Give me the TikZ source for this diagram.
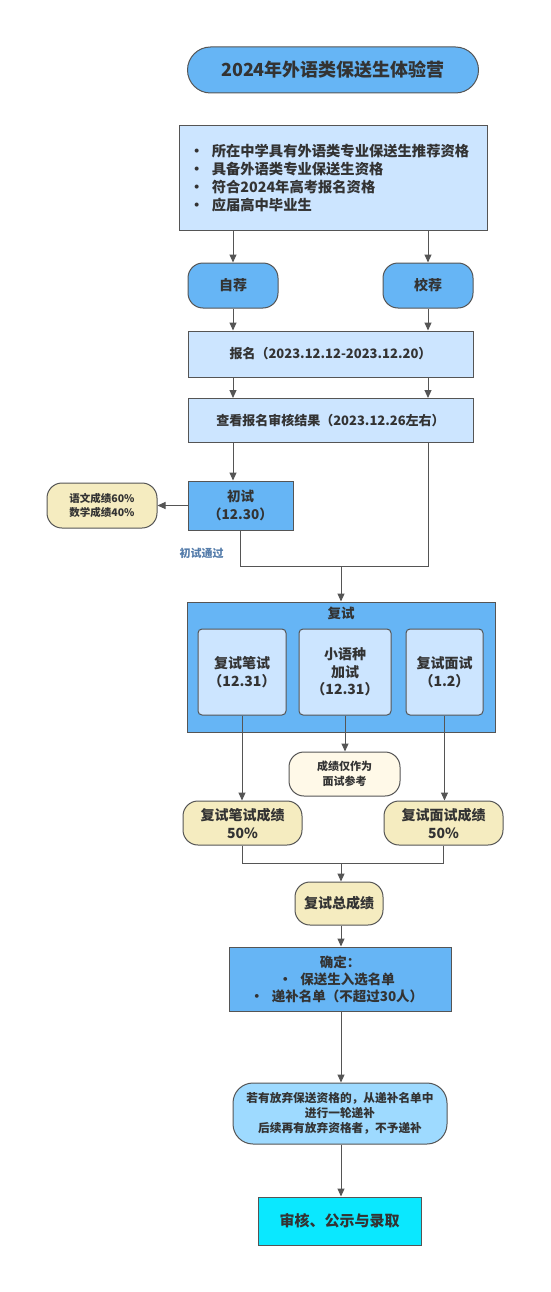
\documentclass[tikz,border=0pt]{standalone}
\usepackage{fontspec}
\setmainfont{Noto Sans CJK SC}
\usetikzlibrary{arrows.meta, positioning, calc}
\definecolor{stepblue}{RGB}{102,181,245}
\definecolor{paleblue}{RGB}{204,229,255}
\definecolor{scorecream}{RGB}{245,236,192}
\definecolor{notecream}{RGB}{255,249,232}
\definecolor{skyblue}{RGB}{158,218,255}
\definecolor{finalcyan}{RGB}{10,232,255}
\definecolor{edgegray}{RGB}{85,85,85}
\definecolor{textgray}{RGB}{51,51,51}
\definecolor{passblue}{RGB}{84,124,170}
\newcommand{\fsz}[2]{\fontsize{#1}{#2}\selectfont\bfseries}
\newcommand{\bul}[1]{\makebox[0pt]{·}\hspace{#1}}

\begin{document}
\begin{tikzpicture}[x=1pt, y=-1pt,
    box/.style={rectangle, draw=edgegray, line width=1pt, align=center,
                inner sep=2pt, text=textgray},
    pill/.style={box, rounded corners=15pt},
    inner/.style={box, fill=paleblue, rounded corners=4pt, minimum height=86pt,
                  font=\fsz{14pt}{17.5pt}},
    arr/.style={-{Triangle[length=8pt, width=7pt]}, draw=edgegray, line width=1pt},
    wire/.style={draw=edgegray, line width=1pt}]

    \fill[white] (0,0) rectangle (550,1292);
    \useasboundingbox (0,0) rectangle (550,1292);

    % Title and entry requirements
    \node[pill, rounded corners=23pt, fill=stepblue, minimum width=291pt, minimum height=46pt,
          font=\fsz{18pt}{22pt}] (title) at (333,70) {2024年外语类保送生体验营};
    \node[box, fill=paleblue, minimum width=308pt, minimum height=104pt, align=left,
          font=\fsz{14.3pt}{18pt}] (elig) at (333,178) {
        \bul{15pt}所在中学具有外语类专业保送生推荐资格\\
        \bul{15pt}具备外语类专业保送生资格\\
        \bul{15pt}符合2024年高考报名资格\\
        \bul{15pt}应届高中毕业生};

    % Recommendation routes
    \node[pill, fill=stepblue, minimum width=90pt, minimum height=45pt,
          font=\fsz{14pt}{17pt}] (self) at (233,285.5) {自荐};
    \node[pill, fill=stepblue, minimum width=90pt, minimum height=45pt,
          font=\fsz{14pt}{17pt}] (school) at (428,285.5) {校荐};

    % Registration
    \node[box, fill=paleblue, minimum width=285pt, minimum height=46pt,
          font=\fsz{13pt}{16pt}] (signup) at (330.5,354) {报名（2023.12.12-2023.12.20）};
    \node[box, fill=paleblue, minimum width=285pt, minimum height=44pt,
          font=\fsz{13pt}{16pt}] (review) at (330.5,420.5) {查看报名审核结果（2023.12.26左右）};

    % Preliminary test
    \node[box, fill=stepblue, minimum width=105pt, minimum height=49pt,
          font=\fsz{13.5pt}{18pt}] (prelim) at (240.5,505.5) {初试\\（12.30）};
    \node[pill, fill=scorecream, minimum width=110pt, minimum height=45pt,
          font=\fsz{10.5pt}{14pt}] (prelimscore) at (102,505.5) {语文成绩60\%\\数学成绩40\%};
    \node[text=passblue, font=\fsz{11pt}{13pt}] (pass) at (201.5,553) {初试通过};
    \coordinate (merge1) at (341,566);

    % Retest
    \node[box, fill=stepblue, minimum width=308pt, minimum height=130pt] (retest) at (341,667) {};
    \node[text=textgray, font=\fsz{13.5pt}{16pt}] (retestlbl) at (341,613) {复试};
    \node[inner, minimum width=88pt] (written) at (242,672) {复试笔试\\（12.31）};
    \node[inner, minimum width=92pt] (minor) at (345,672) {小语种\\加试\\（12.31）};
    \node[inner, minimum width=77pt] (oral) at (444.5,672) {复试面试\\（1.2）};

    % Scores
    \node[pill, fill=notecream, minimum width=111pt, minimum height=44pt,
          font=\fsz{11pt}{15pt}] (refnote) at (344.5,774) {成绩仅作为\\面试参考};
    \node[pill, fill=scorecream, minimum width=119pt, minimum height=44pt,
          font=\fsz{14pt}{18pt}] (wscore) at (242.5,823) {复试笔试成绩\\50\%};
    \node[pill, fill=scorecream, minimum width=119pt, minimum height=44pt,
          font=\fsz{14pt}{18pt}] (oscore) at (443.5,823) {复试面试成绩\\50\%};
    \coordinate (merge2) at (341,863);
    \node[pill, fill=scorecream, minimum width=88pt, minimum height=43pt,
          font=\fsz{14pt}{18pt}] (total) at (339,903.5) {复试总成绩};

    % Decision and admission
    \node[box, fill=stepblue, minimum width=222pt, minimum height=64pt,
          font=\fsz{13.5pt}{17pt}] (decide) at (340,979) {
        确定：\\
        \bul{15pt}保送生入选名单\\
        \bul{15pt}递补名单（不超过30人）};
    \node[pill, rounded corners=20pt, fill=skyblue, minimum width=214pt, minimum height=61pt,
          font=\fsz{11.7pt}{15pt}] (backup) at (340,1113.5) {
        若有放弃保送资格的，从递补名单中\\
        进行一轮递补\\
        后续再有放弃资格者，不予递补};
    \node[box, fill=finalcyan, minimum width=163pt, minimum height=48pt,
          font=\fsz{15pt}{18pt}] (admit) at (339.5,1221) {审核、公示与录取};

    % Arrows
    \draw[arr] (elig.south -| self.north) -- (self.north);
    \draw[arr] (elig.south -| school.north) -- (school.north);
    \draw[arr] (self.south) -- (signup.north -| self.south);
    \draw[arr] (school.south) -- (signup.north -| school.south);
    \draw[arr] (signup.south -| self) -- (review.north -| self);
    \draw[arr] (signup.south -| school) -- (review.north -| school);
    \draw[arr] (review.south -| self) -- (prelim.north -| self);
    \draw[arr] (prelim.west) -- (prelimscore.east);
    \draw[wire] (prelim.south) |- (merge1);
    \draw[wire] (review.south -| school) |- (merge1);
    \draw[arr] (merge1) -- (retest.north -| merge1);
    \draw[arr] (written.south) -- (wscore.north -| written.south);
    \draw[arr] (minor.south) -- (refnote.north -| minor.south);
    \draw[arr] (oral.south) -- (oscore.north -| oral.south);
    \draw[wire] (wscore.south) |- (merge2);
    \draw[wire] (oscore.south) |- (merge2);
    \draw[arr] (merge2) -- (total.north -| merge2);
    \draw[arr] (total.south -| merge2) -- (decide.north -| merge2);
    \draw[arr] (decide.south -| merge2) -- (backup.north -| merge2);
    \draw[arr] (backup.south -| merge2) -- (admit.north -| merge2);
\end{tikzpicture}
\end{document}
